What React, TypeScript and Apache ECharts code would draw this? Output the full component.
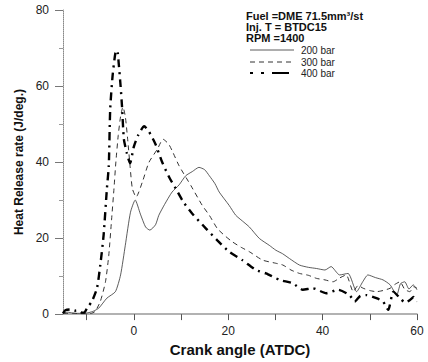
import React, { useEffect, useRef } from "react";
import * as echarts from "echarts";

const angle200 = [-15, -14, -13, -12, -11, -10, -9.5, -8.5, -7.4, -5.7, -3.9, -2.8, -1.8, -0.7, 0.3, 1.4, 2.5, 3.4, 4.6, 5.3, 6.5, 8.1, 9.6, 11, 12.4, 13.8, 15, 16, 17.2, 18.1, 20.2, 21.6, 23, 24.5, 26.6, 28.7, 30.1, 31.5, 33, 35.1, 37, 38.7, 40.5, 41.8, 43.6, 45.4, 47.2, 48.5, 49.6, 51.2, 52.8, 54.3, 55.7, 56.5, 57.4, 58.3, 59.2, 60];
const hrr200 = [0.3, 0.5, 0.3, 0.2, 0.2, 0.3, 0.4, 0.8, 1.6, 4.2, 5.9, 10.3, 18.1, 26.8, 30.0, 26.3, 22.9, 22.1, 23.5, 26.0, 28.8, 32.1, 34.0, 36.4, 37.5, 38.6, 38.0, 36.4, 34.3, 32.1, 28.6, 26.0, 24.5, 22.9, 19.9, 18.1, 16.8, 15.9, 14.6, 12.9, 12.3, 12.0, 11.6, 12.5, 10.3, 10.7, 5.9, 8.5, 10.3, 9.6, 9.0, 7.7, 5.0, 8.0, 8.5, 6.6, 7.7, 6.4];

const angle300 = [-15, -13, -11, -10, -9, -8.2, -7.1, -6.0, -5.3, -4.7, -4.2, -3.8, -3.3, -2.8, -2.3, -1.8, -1.3, -0.8, -0.3, 0.5, 1.8, 3.2, 5.0, 6.2, 7.4, 8.3, 9.6, 12.1, 14.5, 16, 17.7, 19.3, 20.9, 22.7, 24.5, 27.3, 30, 31.6, 33.3, 35.1, 37, 38.7, 40.5, 42.2, 43.6, 45, 46.5, 47.5, 48.6, 50, 51.4, 52.8, 54.3, 55.3, 56.4, 57.4, 58.5, 59.3, 60];
const hrr300 = [0.2, 0.2, 0.1, 0.1, 0.2, 0.7, 3.3, 8.5, 15.5, 25, 33, 40, 47, 52, 54.5, 52, 46, 39, 33, 30.8, 34.7, 39.9, 43.4, 46, 44.7, 42.5, 39, 33.8, 28.6, 26, 22.5, 20.6, 19, 17.6, 16.4, 14.2, 13.4, 12.9, 11.6, 10.7, 10.2, 9.4, 9.0, 8.5, 9.5, 10.3, 5.9, 7.5, 6.8, 6.2, 5.9, 6.2, 6.8, 7.8, 8.5, 6.5, 5.9, 7.2, 6.8];

const angle400 = [-15, -14.5, -13.5, -12.5, -11.7, -11, -10.5, -9.9, -8.9, -7.8, -7.1, -6.4, -5.7, -5.3, -5.0, -4.5, -3.9, -3.5, -3.2, -2.8, -2.5, -2.1, -1.5, -0.8, 0, 0.9, 2.2, 3.2, 4.6, 6.0, 7.5, 8.9, 10.5, 12.4, 15.3, 17.7, 20.2, 23, 25.9, 28, 30.9, 33.7, 35.8, 37.9, 40.8, 43.3, 45.7, 46.8, 48, 49.3, 51.4, 52.8, 53.9, 55, 56.4, 57.5, 58.5, 59.3, 60];
const hrr400 = [0.2, 1.0, 1.2, 0.9, 1.0, 0.4, 0.4, 1.6, 3.3, 6.8, 12.9, 20.7, 33, 39, 53.9, 62.6, 68.7, 69.4, 66, 60, 54.7, 46, 42.5, 39.7, 44, 47, 49.4, 48, 44.7, 40, 36, 33, 29.5, 26.4, 22.5, 19.4, 16.4, 14.2, 11.6, 10.7, 9.0, 8.1, 6.4, 6.8, 5.5, 6.4, 5.0, 3.3, 4.8, 5.0, 4.2, 3.3, 1.1, 5.9, 4.2, 3.0, 3.7, 4.5, 3.3];

const xTickValues = [-10, 0, 10, 20, 30, 40, 50, 60];
const xLabelValues = [0, 20, 40, 60];
const headerLines = ["Fuel =DME 71.5mm\u00b3/st", "Inj. T = BTDC15", "RPM =1400"];
const seriesNames = ["200 bar", "300 bar", "400 bar"];

const zip = (xs: number[], ys: number[]) => xs.map((x, i) => [x, ys[i]]);

export default function App() {
  const ref = useRef<HTMLDivElement>(null);
  useEffect(() => {
    if (!ref.current) return;
    const chart = echarts.init(ref.current, undefined, { renderer: "svg" });
    const font = "Liberation Sans, Arial, sans-serif";
    const styles = [
      { color: "#333", width: 0.8, type: "solid" as any },
      { color: "#333", width: 1, type: [5, 4] as any },
      { color: "#000", width: 2.4, type: [8, 5, 2, 5] as any },
    ];
    const headerY = [16, 27, 38];
    const legendY = [50, 62, 73];
    const graphics: any[] = [];
    headerLines.forEach((t, i) => {
      graphics.push({
        type: "text",
        x: 246,
        y: headerY[i],
        style: { text: t, font: `bold 11px ${font}`, fill: "#111", textVerticalAlign: "middle", verticalAlign: "middle" },
      });
    });
    seriesNames.forEach((n, i) => {
      graphics.push({
        type: "line",
        shape: { x1: 250, y1: legendY[i], x2: 294, y2: legendY[i] },
        style: { stroke: styles[i].color, lineWidth: i === 2 ? 2.2 : styles[i].width, lineDash: i === 0 ? null : i === 1 ? [5, 4] : [3, 8, 3, 8, 14, 0] },
      });
      graphics.push({
        type: "text",
        x: 301,
        y: legendY[i],
        style: { text: n, font: `10px ${font}`, fill: "#222", textVerticalAlign: "middle", verticalAlign: "middle" },
      });
    });
    chart.setOption({
      animation: false,
      backgroundColor: "#fff",
      grid: { left: 63, right: 11, top: 10, bottom: 46, containLabel: false },
      xAxis: {
        type: "value",
        min: -15,
        max: 60,
        name: "Crank angle (ATDC)",
        nameLocation: "middle",
        nameGap: 23,
        nameTextStyle: { fontFamily: font, fontWeight: "bold", fontSize: 15, color: "#111" },
        axisLine: { show: true, onZero: false, lineStyle: { color: "#999", width: 1.5 } },
        axisTick: { show: true, customValues: xTickValues, length: 6, lineStyle: { color: "#555" } },
        axisLabel: { customValues: xLabelValues, margin: 11, fontFamily: font, fontSize: 12, color: "#222" },
        splitLine: { show: false },
      },
      yAxis: {
        type: "value",
        min: 0,
        max: 80,
        interval: 20,
        name: "Heat Release rate (J/deg.)",
        nameLocation: "middle",
        nameGap: 38,
        nameTextStyle: { fontFamily: font, fontWeight: "bold", fontSize: 12, color: "#111" },
        axisLine: { show: true, onZero: false, lineStyle: { color: "#888", width: 1, type: "dotted" } },
        axisTick: { show: true, length: 8, lineStyle: { color: "#777" } },
        minorTick: { show: true, splitNumber: 2, length: 4, lineStyle: { color: "#999" } },
        axisLabel: { margin: 14, fontFamily: font, fontSize: 12, color: "#222" },
        splitLine: { show: false },
      },
      graphic: graphics,
      series: [
        { name: seriesNames[0], type: "line", data: zip(angle200, hrr200), showSymbol: false, smooth: 0.2, lineStyle: styles[0] },
        { name: seriesNames[1], type: "line", data: zip(angle300, hrr300), showSymbol: false, smooth: 0.2, lineStyle: styles[1] },
        { name: seriesNames[2], type: "line", data: zip(angle400, hrr400), showSymbol: false, smooth: 0.2, lineStyle: styles[2] },
      ],
    });
    return () => chart.dispose();
  }, []);
  return <div ref={ref} style={{ width: 428, height: 362, position: "absolute", left: 0, top: 0 }} />;
}
